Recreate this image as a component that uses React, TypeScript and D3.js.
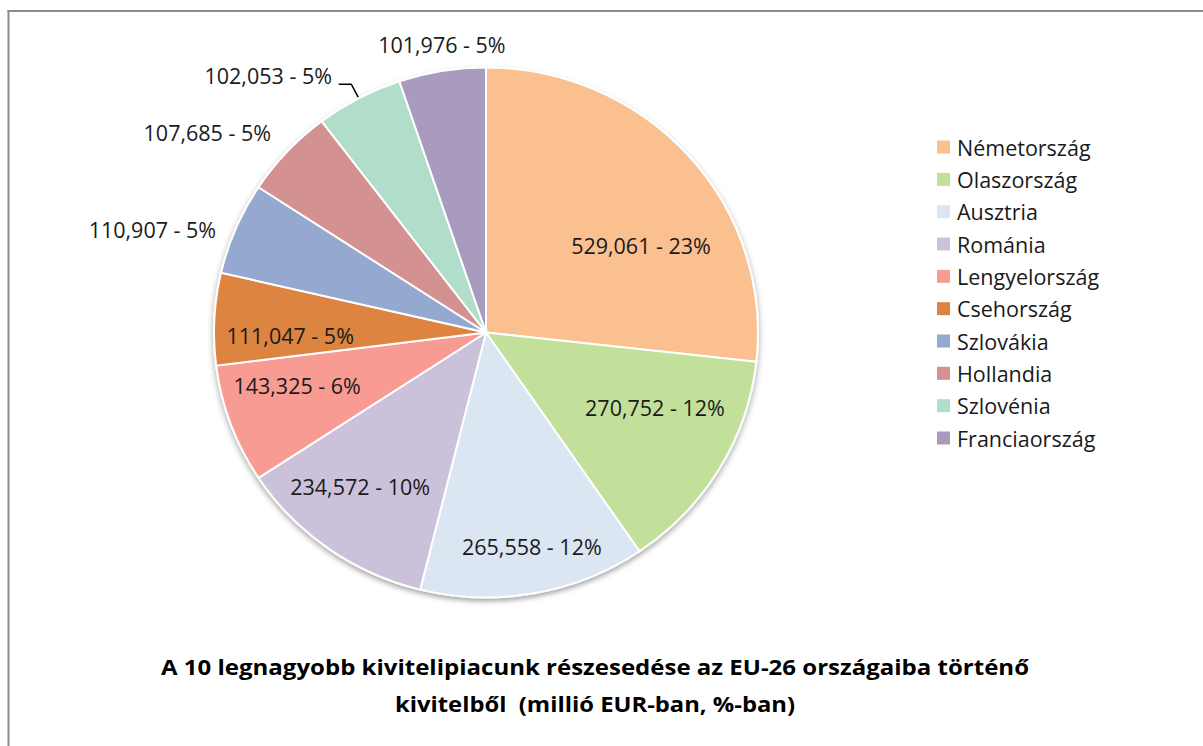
import React from "react";
import * as d3 from "d3";

const countries = [
  "Németország",
  "Olaszország",
  "Ausztria",
  "Románia",
  "Lengyelország",
  "Csehország",
  "Szlovákia",
  "Hollandia",
  "Szlovénia",
  "Franciaország",
];
const values = [529061, 270752, 265558, 234572, 143325, 111047, 110907, 107685, 102053, 101976];
const percents = [23, 12, 12, 10, 6, 5, 5, 5, 5, 5];
const colors = [
  "#FAC090",
  "#C3E09B",
  "#DCE6F2",
  "#CCC1DA",
  "#F79B93",
  "#DC843F",
  "#95A9D0",
  "#D49192",
  "#B0DECB",
  "#A99BBE",
];
const titleLines = [
  "A 10 legnagyobb kivitelipiacunk részesedése az EU-26 országaiba történő",
  "kivitelből  (millió EUR-ban, %-ban)",
];

// layout for labels (degrees shift from slice middle, radius factor)
const labelAngleShift = [12, -6.6, -1.6, 3.1, 4.3, -3.9, -5.5, -6.7, -11.7, 0.8];
const labelRadius = [0.657, 0.682, 0.826, 0.744, 0.722, 0.72, 1.287, 1.272, 1.257, 1.099];
const titleWidths = [868, 400];
const leaderIndex = 8;

const W = 1203;
const H = 746;
const cx = 486;
const cy = 332.5;
const R = 272;
const sy = 265 / 272;
const FONT = "'Open Sans', Lato, sans-serif";

const fmt = d3.format(",");

export default function App() {
  const pie = d3
    .pie<number>()
    .sort(null)
    .value((d) => d)
    .startAngle(0)
    .endAngle(2 * Math.PI);
  const arcs = pie(values);
  const arc = d3.arc<d3.PieArcDatum<number>>().innerRadius(0).outerRadius(R);

  const pt = (a: number, r: number) => [cx + r * Math.sin(a), cy - r * sy * Math.cos(a)];

  const legendY = d3.scaleLinear().domain([0, 9]).range([147, 438]);

  return (
    <svg
      width={W}
      height={H}
      style={{ position: "absolute", left: 0, top: 0, background: "#fff" }}
    >
      <defs>
        <filter id="shadow" x="-10%" y="-10%" width="120%" height="125%">
          <feDropShadow dx="0" dy="3" stdDeviation="3" floodColor="#000" floodOpacity="0.35" />
        </filter>
      </defs>
      <rect x={0} y={0} width={W} height={H} fill="#fff" />
      <line x1={8.5} y1={10} x2={8.5} y2={H} stroke="#8c8c8c" strokeWidth={2} />
      <line x1={7.5} y1={11} x2={W} y2={11} stroke="#8c8c8c" strokeWidth={2} />

      <g transform={`translate(${cx},${cy}) scale(1,${sy})`} filter="url(#shadow)">
        {arcs.map((a, i) => (
          <path key={i} d={arc(a) || ""} fill={colors[i]} stroke="#fff" strokeWidth={2} />
        ))}
      </g>

      {arcs.map((a, i) => {
        const mid = (a.startAngle + a.endAngle) / 2;
        const ang = mid + (labelAngleShift[i] * Math.PI) / 180;
        const [x, y] = pt(ang, labelRadius[i] * R);
        return (
          <text
            key={i}
            x={x}
            y={y}
            textAnchor="middle"
            dominantBaseline="central"
            fontFamily={FONT}
            fontSize={21.5}
            fill="#1a1a1a"
          >
            {`${fmt(values[i])} - ${percents[i]}%`}
          </text>
        );
      })}

      {(() => {
        const a = arcs[leaderIndex];
        const mid = (a.startAngle + a.endAngle) / 2;
        const [x0, y0] = pt(mid, R * 1.005);
        const [x1, y1] = pt(mid, R * 1.06);
        return (
          <polyline
            points={`${x0},${y0} ${x1},${y1} ${x1 - 12.5},${y1}`}
            fill="none"
            stroke="#000"
            strokeWidth={1.5}
          />
        );
      })()}

      {countries.map((c, i) => (
        <g key={c} transform={`translate(937,${legendY(i)})`}>
          <rect x={0} y={-6.5} width={13} height={13} fill={colors[i]} />
          <text
            x={20}
            y={0}
            dominantBaseline="central"
            fontFamily={FONT}
            fontSize={21.5}
            fill="#1a1a1a"
          >
            {c}
          </text>
        </g>
      ))}

      {titleLines.map((t, i) => (
        <text
          key={i}
          x={595}
          y={667 + i * 37}
          textAnchor="middle"
          dominantBaseline="central"
          fontFamily={FONT}
          fontWeight="bold"
          fontSize={20.5}
          fill="#000"
          textLength={titleWidths[i]}
          lengthAdjust="spacingAndGlyphs"
          style={{ whiteSpace: "pre" }}
        >
          {t}
        </text>
      ))}
    </svg>
  );
}
